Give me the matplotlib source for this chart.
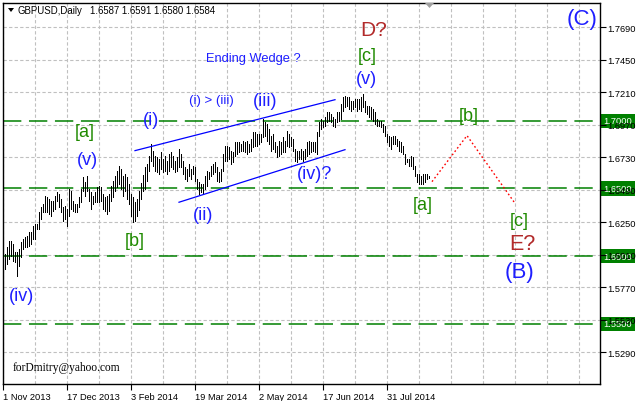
import matplotlib
matplotlib.use("Agg")
import matplotlib.pyplot as plt
import matplotlib.transforms as mtrans
from matplotlib.patches import Polygon

# ---------------- data ----------------
highs = [
    1.6016, 1.6065, 1.6115, 1.6115, 1.6090, 1.6028, 1.6028, 1.6053, 1.6102, 1.6127,
    1.6139, 1.6151, 1.6176, 1.6176, 1.6225, 1.6238, 1.6238, 1.6324, 1.6361, 1.6385,
    1.6447, 1.6434, 1.6422, 1.6410, 1.6410, 1.6447, 1.6471, 1.6459, 1.6422, 1.6361,
    1.6373, 1.6348, 1.6496, 1.6484, 1.6410, 1.6385, 1.6385, 1.6434, 1.6496, 1.6582,
    1.6545, 1.6594, 1.6496, 1.6471, 1.6447, 1.6471, 1.6508, 1.6521, 1.6508, 1.6459,
    1.6434, 1.6447, 1.6459,
    1.6521, 1.6558, 1.6595, 1.6632, 1.6669, 1.6644, 1.6595, 1.6607, 1.6583, 1.6533,
    1.6459, 1.6435, 1.6400, 1.6420, 1.6480, 1.6540, 1.6600, 1.6656, 1.6681, 1.6742,
    1.6829, 1.6779, 1.6742, 1.6730, 1.6718, 1.6767, 1.6718, 1.6742, 1.6706, 1.6755,
    1.6767, 1.6742, 1.6706, 1.6730, 1.6792, 1.6755, 1.6706, 1.6656, 1.6644, 1.6681,
    1.6644, 1.6669, 1.6656, 1.6570, 1.6546, 1.6533, 1.6533, 1.6595, 1.6632, 1.6619,
    1.6669, 1.6681, 1.6693,
    1.6656, 1.6619, 1.6643, 1.6754, 1.6816, 1.6816, 1.6803, 1.6779, 1.6766, 1.6840,
    1.6840, 1.6840, 1.6828, 1.6853, 1.6840, 1.6853, 1.6828, 1.6865, 1.6914, 1.6914,
    1.6902, 1.6902, 1.6902, 1.7012, 1.6988, 1.6976, 1.6939, 1.6889, 1.6902, 1.6840,
    1.6816, 1.6853, 1.6840, 1.6877, 1.6853, 1.6926, 1.6902, 1.6877, 1.6865, 1.6791,
    1.6779, 1.6779, 1.6791, 1.6779, 1.6791, 1.6840, 1.6853, 1.6840, 1.6840, 1.6840,
    1.6914, 1.6988,
    1.7013, 1.7000, 1.7025, 1.7062, 1.7062, 1.7050, 1.7025, 1.7013, 1.7062, 1.7062,
    1.7123, 1.7173, 1.7185, 1.7173, 1.7173, 1.7148, 1.7148, 1.7160, 1.7160, 1.7160,
    1.7173, 1.7197, 1.7148, 1.7111, 1.7111, 1.7099, 1.7086, 1.7062, 1.7013, 1.7000,
    1.7000, 1.6976, 1.6963, 1.6902, 1.6890, 1.6877, 1.6890, 1.6890, 1.6865, 1.6853,
    1.6840, 1.6816, 1.6754, 1.6717, 1.6717, 1.6742, 1.6730, 1.6668, 1.6607, 1.6607,
    1.6594, 1.6607, 1.6607, 1.6607, 1.6591,
]
lows = [
    1.5905, 1.5942, 1.5979, 1.6004, 1.5967, 1.5955, 1.5856, 1.5930, 1.5991, 1.6053,
    1.6065, 1.6065, 1.6078, 1.6090, 1.6127, 1.6127, 1.6201, 1.6201, 1.6275, 1.6324,
    1.6324, 1.6324, 1.6311, 1.6299, 1.6336, 1.6348, 1.6410, 1.6361, 1.6324, 1.6262,
    1.6275, 1.6225, 1.6299, 1.6348, 1.6336, 1.6324, 1.6324, 1.6361, 1.6398, 1.6484,
    1.6447, 1.6484, 1.6410, 1.6348, 1.6385, 1.6398, 1.6398, 1.6398, 1.6410, 1.6348,
    1.6336, 1.6311, 1.6336,
    1.6410, 1.6435, 1.6484, 1.6509, 1.6533, 1.6496, 1.6447, 1.6484, 1.6423, 1.6386,
    1.6300, 1.6254, 1.6260, 1.6300, 1.6340, 1.6420, 1.6480, 1.6496, 1.6558, 1.6632,
    1.6705, 1.6669, 1.6632, 1.6619, 1.6607, 1.6644, 1.6619, 1.6632, 1.6607, 1.6632,
    1.6656, 1.6644, 1.6619, 1.6632, 1.6656, 1.6656, 1.6607, 1.6570, 1.6558, 1.6595,
    1.6570, 1.6607, 1.6558, 1.6496, 1.6459, 1.6472, 1.6459, 1.6496, 1.6521, 1.6570,
    1.6595, 1.6607, 1.6619,
    1.6557, 1.6545, 1.6557, 1.6631, 1.6705, 1.6705, 1.6717, 1.6680, 1.6693, 1.6742,
    1.6754, 1.6766, 1.6779, 1.6779, 1.6766, 1.6754, 1.6766, 1.6779, 1.6803, 1.6816,
    1.6816, 1.6828, 1.6840, 1.6877, 1.6889, 1.6853, 1.6828, 1.6779, 1.6791, 1.6766,
    1.6729, 1.6742, 1.6754, 1.6766, 1.6766, 1.6816, 1.6803, 1.6816, 1.6779, 1.6705,
    1.6693, 1.6717, 1.6717, 1.6705, 1.6717, 1.6742, 1.6754, 1.6766, 1.6779, 1.6766,
    1.6754, 1.6889,
    1.6939, 1.6951, 1.6963, 1.6988, 1.7000, 1.6988, 1.6963, 1.6951, 1.6988, 1.7000,
    1.7013, 1.7074, 1.7099, 1.7111, 1.7086, 1.7074, 1.7086, 1.7099, 1.7074, 1.7086,
    1.7074, 1.7099, 1.7062, 1.7050, 1.7025, 1.7013, 1.7000, 1.6976, 1.6963, 1.6963,
    1.6951, 1.6914, 1.6890, 1.6840, 1.6816, 1.6791, 1.6828, 1.6828, 1.6816, 1.6779,
    1.6766, 1.6754, 1.6680, 1.6693, 1.6668, 1.6668, 1.6643, 1.6594, 1.6545, 1.6533,
    1.6533, 1.6533, 1.6545, 1.6570, 1.6580,
]
date_labels = ["1 Nov 2013", "17 Dec 2013", "3 Feb 2014", "19 Mar 2014",
               "2 May 2014", "17 Jun 2014", "31 Jul 2014"]
date_label_bars = [-1, 31, 63, 95, 127, 159, 191]
ytick_prices = [1.5290, 1.5530, 1.5770, 1.6010, 1.6250, 1.6490,
                1.6730, 1.6970, 1.7210, 1.7450, 1.7690]
level_prices = [1.7000, 1.6500, 1.6000, 1.5500]
level_texts = ["1.7000", "1.6500", "1.6000", "1.5500"]
wedge_upper_bars = [65, 165]
wedge_upper_prices = [1.6779, 1.7155]
wedge_lower_bars = [87, 170]
wedge_lower_prices = [1.6398, 1.6786]
proj_bars = [213.5, 231, 255]
proj_prices = [1.6550, 1.6890, 1.6390]
header_ohlc = "1.6587 1.6591 1.6580 1.6584"

# ---------------- figure ----------------
W, H = 637, 402
fig = plt.figure(figsize=(W / 100, H / 100), dpi=100)
fig.patch.set_facecolor("white")
ax = fig.add_axes([3 / W, 1 - 385 / H, 597 / W, 381 / H])
ax.set_facecolor("white")
ax.set_xlim(-1, 297.5)
ax.set_ylim(1.5056, 1.7869)

SANS = "Liberation Sans"
BLUE = "#1e1eff"
GREEN = "#1f8a00"
RED = "#b22a2a"

# grid and ticks
ax.set_xticks(date_label_bars)
ax.set_xticks([-1 + 16 * k for k in range(19)], minor=True)
ax.set_xticklabels(date_labels, fontsize=6.7, family=SANS)
for lbl in ax.get_xticklabels():
    lbl.set_ha("left")
ax.tick_params(axis="x", which="major", direction="out", length=4, width=0.8, pad=1.5)
ax.tick_params(axis="x", which="minor", length=0)
ax.yaxis.tick_right()
ax.set_yticks(ytick_prices)
ax.set_yticklabels([f"{v:.4f}" for v in ytick_prices], fontsize=6.7, family=SANS)
ax.tick_params(axis="y", direction="out", length=4, width=0.8, pad=1.5)
ax.xaxis.grid(True, which="both", color="#c0c0c0", linestyle=(0, (3, 2)), lw=0.8)
ax.yaxis.grid(True, which="major", color="#c0c0c0", linestyle=(0, (3, 2)), lw=0.8)
for s in ax.spines.values():
    s.set_color("black")
    s.set_linewidth(1.0)

# horizontal levels
for p in level_prices:
    ax.axhline(p, color="#008000", lw=1.1, linestyle=(0, (12, 5)), zorder=2)

# bars (high-low)
idx = list(range(len(highs)))
ax.vlines(idx, lows, highs, color="black", lw=0.72, antialiased=False, zorder=3)

# wedge lines
ax.plot(wedge_upper_bars, wedge_upper_prices, color="#0000ff", lw=0.9, zorder=4)
ax.plot(wedge_lower_bars, wedge_lower_prices, color="#0000ff", lw=0.9, zorder=4)
# projection
ax.plot(proj_bars, proj_prices, color="red", lw=1.0, linestyle=(0, (1.2, 1.8)), zorder=4)

# level price tags on the right axis
blend = mtrans.blended_transform_factory(ax.transAxes, ax.transData)
for p, t in zip(level_prices, level_texts):
    ax.text(1.006, p, t, transform=blend, ha="left", va="center", color="white",
            fontsize=6.7, family=SANS, clip_on=False, zorder=1,
            bbox=dict(boxstyle="square,pad=0.28", fc="#008000", ec="none"))

# wave labels
def lab(x, y, s, color, size):
    ax.text(x, y, s, color=color, fontsize=size, family=SANS, ha="center",
            va="center", zorder=5)

lab(288.5, 1.7751, "(C)", BLUE, 16)
lab(184.5, 1.7670, "D?", RED, 15)
lab(181, 1.7485, "[c]", GREEN, 13)
lab(180.5, 1.7308, "(v)", BLUE, 13)
lab(232, 1.7035, "[b]", GREEN, 13)
lab(124, 1.7463, "Ending Wedge ?", BLUE, 9.3)
lab(103, 1.7153, "(i) > (iii)", BLUE, 9.5)
lab(130, 1.7146, "(iii)", BLUE, 13)
lab(73, 1.7006, "(i)", BLUE, 13)
lab(40, 1.6917, "[a]", GREEN, 13)
lab(41, 1.6710, "(v)", BLUE, 13)
lab(65, 1.6119, "[b]", GREEN, 13)
lab(99, 1.6311, "(ii)", BLUE, 13)
lab(155, 1.6607, "(iv)?", BLUE, 13)
lab(209, 1.6378, "[a]", GREEN, 13)
lab(257, 1.6260, "[c]", GREEN, 13)
lab(258.5, 1.6090, "E?", RED, 15.5)
lab(257, 1.5883, "(B)", BLUE, 16)
lab(8, 1.5706, "(iv)", BLUE, 13)
ax.text(4, 1.5182, "forDmitry@yahoo.com", color="black", fontsize=8.3,
        family="Liberation Serif", ha="left", va="center", zorder=5)

# header
fig.text(18 / W, 1 - 11 / H, "GBPUSD,Daily", fontsize=6.9, family=SANS,
         ha="left", va="center", color="black")
fig.text(90 / W, 1 - 11 / H, header_ohlc, fontsize=6.9, family=SANS,
         ha="left", va="center", color="black")
fig.patches.append(Polygon([[8 / W, 1 - 9 / H], [14 / W, 1 - 9 / H], [11 / W, 1 - 13 / H]],
                           closed=True, transform=fig.transFigure, fc="black", ec="none"))
fig.patches.append(Polygon([[425 / W, 1 - 4 / H], [434 / W, 1 - 4 / H], [429.5 / W, 1 - 9 / H]],
                           closed=True, transform=fig.transFigure, fc="#a0a0a0", ec="none"))

fig.savefig("out.png", dpi=100)
